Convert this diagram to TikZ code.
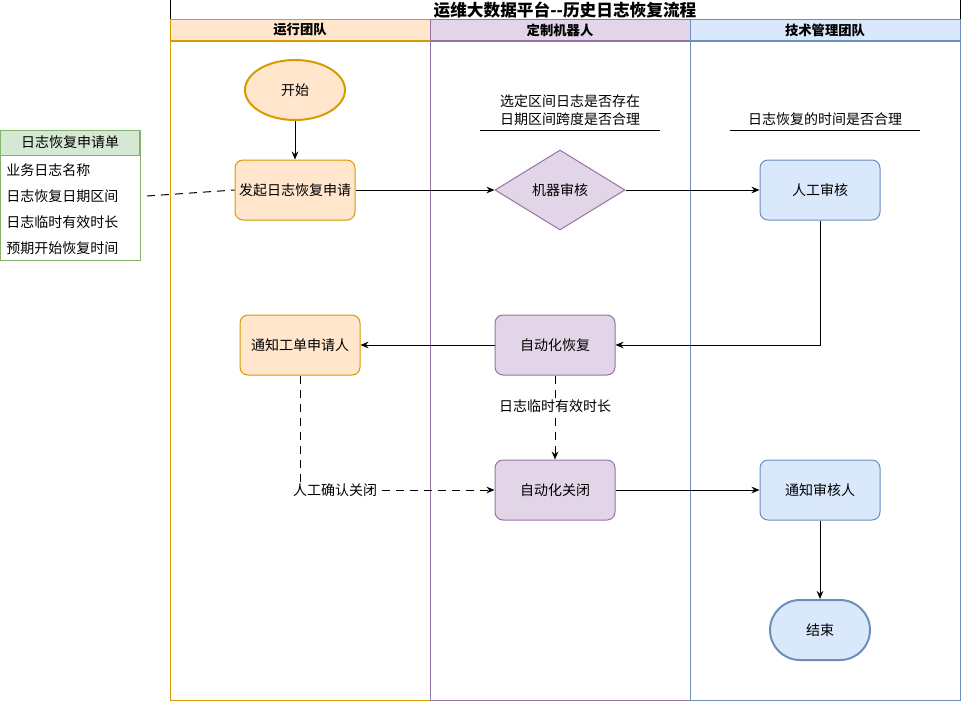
\documentclass[tikz,border=0pt]{standalone}
\usepackage{fontspec}
\setmainfont{Noto Sans CJK SC}
\usetikzlibrary{shapes.geometric, arrows.meta, positioning}
\definecolor{OrangeFill}{HTML}{FFE6CC}
\definecolor{OrangeLine}{HTML}{D79B00}
\definecolor{PurpleFill}{HTML}{E1D5E7}
\definecolor{PurpleLine}{HTML}{9673A6}
\definecolor{BlueFill}{HTML}{DAE8FC}
\definecolor{BlueLine}{HTML}{6C8EBF}
\definecolor{GreenFill}{HTML}{D5E8D4}
\definecolor{GreenLine}{HTML}{82B366}
\tikzset{
    lanehead/.style={draw, minimum height=15pt, font=\fontsize{10pt}{12pt}\selectfont\bfseries},
    task/.style={draw, rounded corners=6pt, align=center, font=\fontsize{10.5pt}{13pt}\selectfont, minimum width=90pt, minimum height=45pt, inner sep=1pt, line width=0.75pt},
    orangetask/.style={task, draw=OrangeLine, fill=OrangeFill},
    purpletask/.style={task, draw=PurpleLine, fill=PurpleFill},
    bluetask/.style={task, draw=BlueLine, fill=BlueFill},
    decision/.style={diamond, aspect=1.625, draw=PurpleLine, fill=PurpleFill, minimum width=97.5pt, minimum height=60pt, inner sep=0pt, font=\fontsize{10.5pt}{13pt}\selectfont, line width=0.75pt},
    note/.style={align=center, anchor=south, inner sep=3pt, font=\fontsize{10.5pt}{13.5pt}\selectfont},
    rowitem/.style={anchor=west, inner sep=0pt, font=\fontsize{10.5pt}{13pt}\selectfont},
    edgelabel/.style={fill=white, inner sep=0.5pt, font=\fontsize{10.5pt}{13pt}\selectfont},
    arr/.style={-{Stealth[length=6pt, width=5pt]}, line width=0.75pt},
    dasharr/.style={arr, dash pattern=on 6pt off 4.5pt}
}
\begin{document}
\begin{tikzpicture}[x=0.75pt, y=-0.75pt]
    \useasboundingbox (0,0) rectangle (961,701);
    % Pool and lanes
    \node[draw, line width=0.75pt, minimum width=592.5pt, minimum height=15pt, font=\fontsize{12.5pt}{14pt}\selectfont\bfseries] (title) at (565,10) {运维大数据平台-{}-历史日志恢复流程};
    \node[lanehead, draw=OrangeLine, fill=OrangeFill, minimum width=195pt] (laneops) at (300,30) {运行团队};
    \node[lanehead, draw=PurpleLine, fill=PurpleFill, minimum width=195pt] (lanebot) at (560,30) {定制机器人};
    \node[lanehead, draw=BlueLine, fill=BlueFill, minimum width=202.5pt] (lanetech) at (825,30) {技术管理团队};
    \draw[OrangeLine, line width=0.75pt] (170,40) rectangle (430,700);
    \draw[PurpleLine, line width=0.75pt] (430,40) rectangle (690,700);
    \draw[BlueLine, line width=0.75pt] (690,40) rectangle (960,700);

    % Request form
    \draw[GreenLine, line width=0.75pt, fill=white] (0.5,130) rectangle (140,260);
    \node[draw=GreenLine, fill=GreenFill, line width=0.75pt, minimum width=104.6pt, minimum height=18.75pt, inner sep=0pt, font=\fontsize{10.5pt}{13pt}\selectfont] (form) at (70.25,142.5) {日志恢复申请单};
    \node[rowitem] (rowname) at (6,170) {业务日志名称};
    \node[rowitem] (rowdate) at (6,196) {日志恢复日期区间};
    \node[rowitem] (rowtemp) at (6,222) {日志临时有效时长};
    \node[rowitem] (rowplan) at (6,248) {预期开始恢复时间};
    \coordinate (formport) at (147,196);

    % Flow nodes
    \node[ellipse, draw=OrangeLine, fill=OrangeFill, line width=1.5pt, minimum width=75pt, minimum height=45pt, font=\fontsize{10.5pt}{13pt}\selectfont] (start) at (295,90) {开始};
    \node[orangetask] (apply) at (295,190) {发起日志恢复申请};
    \node[decision] (botcheck) at (560,190) {机器审核};
    \node[bluetask] (mancheck) at (820,190) {人工审核};
    \node[purpletask] (autorestore) at (555,345) {自动化恢复};
    \node[orangetask] (notifyapp) at (300,345) {通知工单申请人};
    \node[purpletask] (autoclose) at (555,490) {自动化关闭};
    \node[bluetask] (notifyrev) at (820,490) {通知审核人};
    \node[draw=BlueLine, fill=BlueFill, line width=1.5pt, rounded corners=22.5pt, minimum width=75pt, minimum height=45pt, font=\fontsize{10.5pt}{13pt}\selectfont] (finish) at (820,630) {结束};

    % Notes
    \node[note, minimum width=135pt] (botnote) at (570,130) {选定区间日志是否存在\\日期区间跨度是否合理};
    \node[note, minimum width=142.5pt] (mannote) at (825,130) {日志恢复的时间是否合理};
    \draw[line width=0.75pt] (botnote.south west) -- (botnote.south east);
    \draw[line width=0.75pt] (mannote.south west) -- (mannote.south east);

    % Edges
    \draw[arr] (start) -- (apply);
    \draw[line width=0.75pt, dash pattern=on 6pt off 4.5pt] (formport) -- (apply.west);
    \draw[arr] (apply) -- (botcheck);
    \draw[arr] (botcheck) -- (mancheck);
    \draw[arr] (mancheck) |- (autorestore);
    \draw[arr] (autorestore) -- (notifyapp);
    \draw[dasharr] (autorestore) -- node[edgelabel, pos=0.37] {日志临时有效时长} (autoclose);
    \draw[dasharr] (notifyapp) |- node[edgelabel, pos=0.59] {人工确认关闭} (autoclose);
    \draw[arr] (autoclose) -- (notifyrev);
    \draw[arr] (notifyrev) -- (finish);
\end{tikzpicture}
\end{document}
